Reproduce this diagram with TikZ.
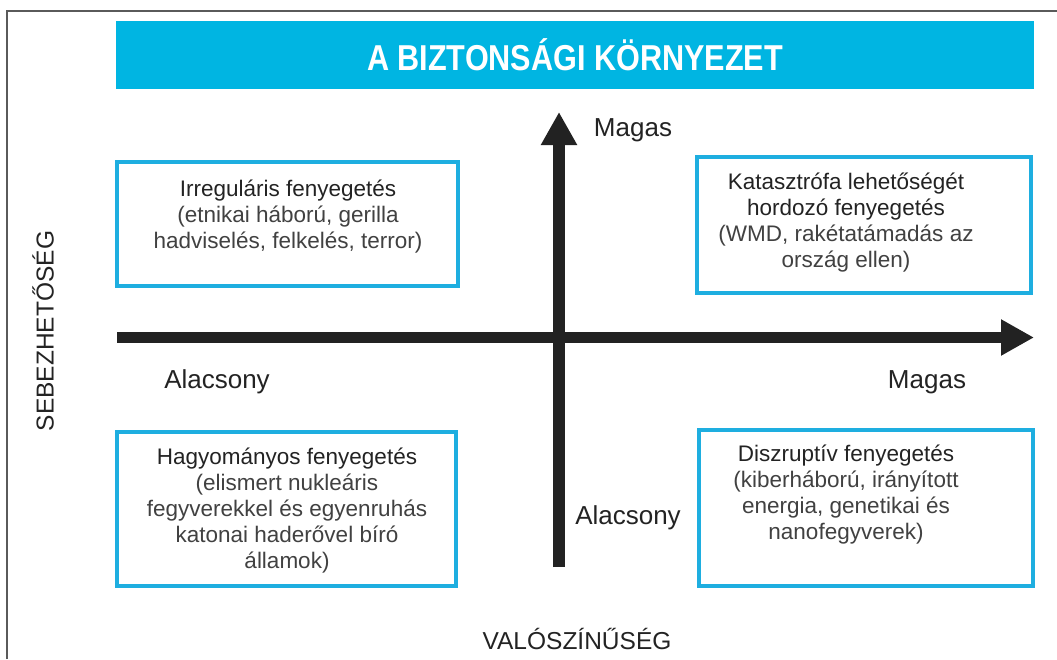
\documentclass[tikz,border=0pt]{standalone}
\usepackage{fontspec}
\setmainfont{Liberation Sans}
\usetikzlibrary{arrows.meta}
\definecolor{barcyan}{RGB}{0,181,226}
\definecolor{boxcyan}{RGB}{30,174,224}
\definecolor{txt}{RGB}{65,65,65}
\definecolor{txtdark}{RGB}{35,35,35}
\definecolor{arrowk}{RGB}{34,34,34}
\definecolor{framegray}{RGB}{90,90,90}
\begin{document}
\begin{tikzpicture}[x=1pt,y=-1pt,
  quad/.style={draw=boxcyan,line width=4pt,fill=white,inner sep=0pt},
  desc/.style={align=center,text=txt,font=\fontsize{22.5}{26}\selectfont,inner sep=0pt},
  axlabel/.style={text=txtdark,font=\fontsize{26}{30}\selectfont,inner sep=0pt},
  axtitle/.style={text=txtdark,font=\fontsize{24.5}{28}\selectfont,inner sep=0pt},
  axisarrow/.style={draw=arrowk,line width=11.5pt,-{Triangle[length=33pt,width=34pt]}}]
\useasboundingbox (0,0) rectangle (1057,659);
\fill[white] (0,0) rectangle (1057,659);
\draw[framegray,line width=1.5pt] (7,659) -- (7,11) -- (1057,11);

\node[fill=barcyan,minimum width=918pt,minimum height=68pt,inner sep=0pt,text=white] (title) at (575,55)
  {\scalebox{0.85}[1]{\bfseries\fontsize{36}{36}\selectfont A BIZTONSÁGI KÖRNYEZET}};

\node[quad,minimum width=341pt,minimum height=124pt] (tl) at (287.5,224) {};
\node[quad,minimum width=334pt,minimum height=136pt] (tr) at (864,225) {};
\node[quad,minimum width=339pt,minimum height=154pt] (bl) at (286.5,509) {};
\node[quad,minimum width=334pt,minimum height=156pt] (br) at (866,508) {};

\node[desc] (tltext) at (288,217) {\textcolor{txtdark}{Irreguláris fenyegetés}\\(etnikai háború, gerilla\\hadviselés, felkelés, terror)};
\node[desc] (trtext) at (846,223) {\textcolor{txtdark}{Katasztrófa lehetőségét}\\\textcolor{txtdark}{hordozó fenyegetés}\\(WMD, rakétatámadás az\\ország ellen)};
\node[desc] (bltext) at (287,511) {\textcolor{txtdark}{Hagyományos fenyegetés}\\(elismert nukleáris\\fegyverekkel és egyenruhás\\katonai haderővel bíró\\államok)};
\node[desc] (brtext) at (846,495) {\textcolor{txtdark}{Diszruptív fenyegetés}\\(kiberháború, irányított\\energia, genetikai és\\nanofegyverek)};

\coordinate (hstart) at (117,337.5);
\coordinate (hend) at (1034,337.5);
\coordinate (vstart) at (559,567);
\coordinate (vend) at (559,112);
\draw[axisarrow] (hstart) -- (hend);
\draw[axisarrow] (vstart) -- (vend);

\node[axlabel] (magasv) at (633,130) {Magas};
\node[axlabel] (alacsonyh) at (217,382) {Alacsony};
\node[axlabel] (magash) at (927,382) {Magas};
\node[axlabel] (alacsonyv) at (628,518) {Alacsony};

\node[axtitle,rotate=90] (sebez) at (43,331) {SEBEZHETŐSÉG};
\node[axtitle] (valo) at (577,639) {VALÓSZÍNŰSÉG};
\end{tikzpicture}
\end{document}
